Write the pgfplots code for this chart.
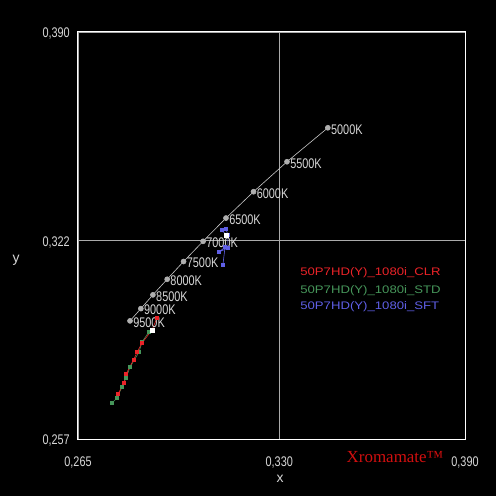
\documentclass[border=0pt]{standalone}
\usepackage{pgfplots}
\pgfplotsset{compat=1.18}
\usepackage{fontspec}
\setmainfont{Liberation Sans}
\newfontfamily\tickfont[FakeStretch=0.78]{Liberation Sans}
\newfontfamily\legfont[FakeStretch=1.2]{Liberation Sans}
\newfontfamily\logofont{Liberation Serif}

\definecolor{gridgray}{RGB}{170,170,170}
\definecolor{ticktext}{RGB}{215,215,215}
\definecolor{bbline}{RGB}{200,200,200}
\definecolor{bbmark}{RGB}{175,175,175}
\definecolor{clrred}{RGB}{235,35,40}
\definecolor{stdgreen}{RGB}{70,150,90}
\definecolor{sftblue}{RGB}{95,95,230}
\definecolor{logored}{RGB}{210,15,15}

\begin{document}
\begin{tikzpicture}
\fill[black] (-78bp,-57bp) rectangle (418bp,439bp);
\useasboundingbox (-78bp,-57bp) rectangle (418bp,439bp);
\begin{axis}[
    at={(0,0)}, anchor=south west,
    scale only axis, width=387bp, height=407bp,
    xmin=0.265, xmax=0.390, ymin=0.257, ymax=0.390,
    axis line style={white, line width=1bp},
    xtick={0.265,0.330,0.390},
    ytick={0.257,0.322,0.390},
    scaled ticks=false,
    major tick length=0pt,
    grid=major,
    grid style={gridgray, line width=0.8bp},
    /pgf/number format/.cd, fixed, fixed zerofill, precision=3, use comma,
      assume math mode=true,
    /pgfplots/.cd,
    ticklabel style={font=\tickfont\fontsize{14}{14}\selectfont, text=ticktext},
    xticklabel style={anchor=north, inner sep=0pt, yshift=-18bp},
    yticklabel style={anchor=east, inner sep=0pt, xshift=-8bp, yshift=-2bp},
    xlabel={x}, ylabel={y},
    label style={font=\fontsize{14}{14}\selectfont, text=ticktext},
    xlabel style={at={(rel axis cs:0.522,0)}, anchor=center, yshift=-40bp},
    ylabel style={at={(rel axis cs:0,0.445)}, anchor=center, rotate=-90, xshift=-62bp, yshift=-2bp},
]
% daylight locus, 5000K ... 9500K
\addplot[bbline, line width=0.6bp, mark=*, mark size=2.5bp,
    mark options={fill=bbmark, draw=bbmark},
    nodes near coords, point meta=explicit symbolic,
    every node near coord/.append style={anchor=west, inner sep=0pt,
      xshift=3bp, yshift=-1.5bp, text=ticktext,
      font=\tickfont\fontsize{14}{14}\selectfont}]
  table[meta=label] {
x       y       label
0.3457  0.3587  5000K
0.3325  0.3476  5500K
0.3217  0.3378  6000K
0.3128  0.3292  6500K
0.3054  0.3216  7000K
0.2991  0.3150  7500K
0.2938  0.3092  8000K
0.2892  0.3041  8500K
0.2853  0.2996  9000K
0.2818  0.2956  9500K
};
% 50P7HD(Y)_1080i_STD
\addplot[stdgreen, line width=0.6bp, mark=square*, mark size=1.5bp]
  table {
x       y
0.2760  0.2688
0.2776  0.2704
0.2792  0.2740
0.2805  0.2769
0.2818  0.2805
0.2847  0.2854
0.2857  0.2887
0.2879  0.2920
0.2889  0.2926
};
% 50P7HD(Y)_1080i_CLR
\addplot[clrred, line width=0.6bp, mark=square*, mark size=1.5bp]
  table {
x       y
0.2779  0.2717
0.2799  0.2753
0.2805  0.2782
0.2830  0.2830
0.2841  0.2854
0.2857  0.2884
0.2889  0.2926
0.2905  0.2965
};
% 50P7HD(Y)_1080i_SFT
\addplot[sftblue, line width=0.6bp, mark=square*, mark size=1.5bp]
  table {
x       y
0.3118  0.3139
0.3125  0.3197
0.3105  0.3181
0.3134  0.3194
0.3134  0.3237
0.3128  0.3256
0.3115  0.3253
0.3128  0.3237
};
% current points
\addplot[only marks, mark=square*, mark size=2bp, mark options={fill=white, draw=white}]
  table {
x       y
0.2889  0.2926
0.3128  0.3237
};
\node[anchor=west, inner sep=0pt, text=clrred, font=\legfont\fontsize{11}{11}\selectfont]
  at (rel axis cs:0.574,0.408) {50P7HD(Y)\_1080i\_CLR};
\node[anchor=west, inner sep=0pt, text=stdgreen, font=\legfont\fontsize{11}{11}\selectfont]
  at (rel axis cs:0.574,0.365) {50P7HD(Y)\_1080i\_STD};
\node[anchor=west, inner sep=0pt, text=sftblue, font=\legfont\fontsize{11}{11}\selectfont]
  at (rel axis cs:0.574,0.325) {50P7HD(Y)\_1080i\_SFT};
\end{axis}
\node[text=logored, font=\logofont\fontsize{17}{17}\selectfont, inner sep=0pt]
  at (317bp,-18bp) {Xromamate™};
\end{tikzpicture}
\end{document}
